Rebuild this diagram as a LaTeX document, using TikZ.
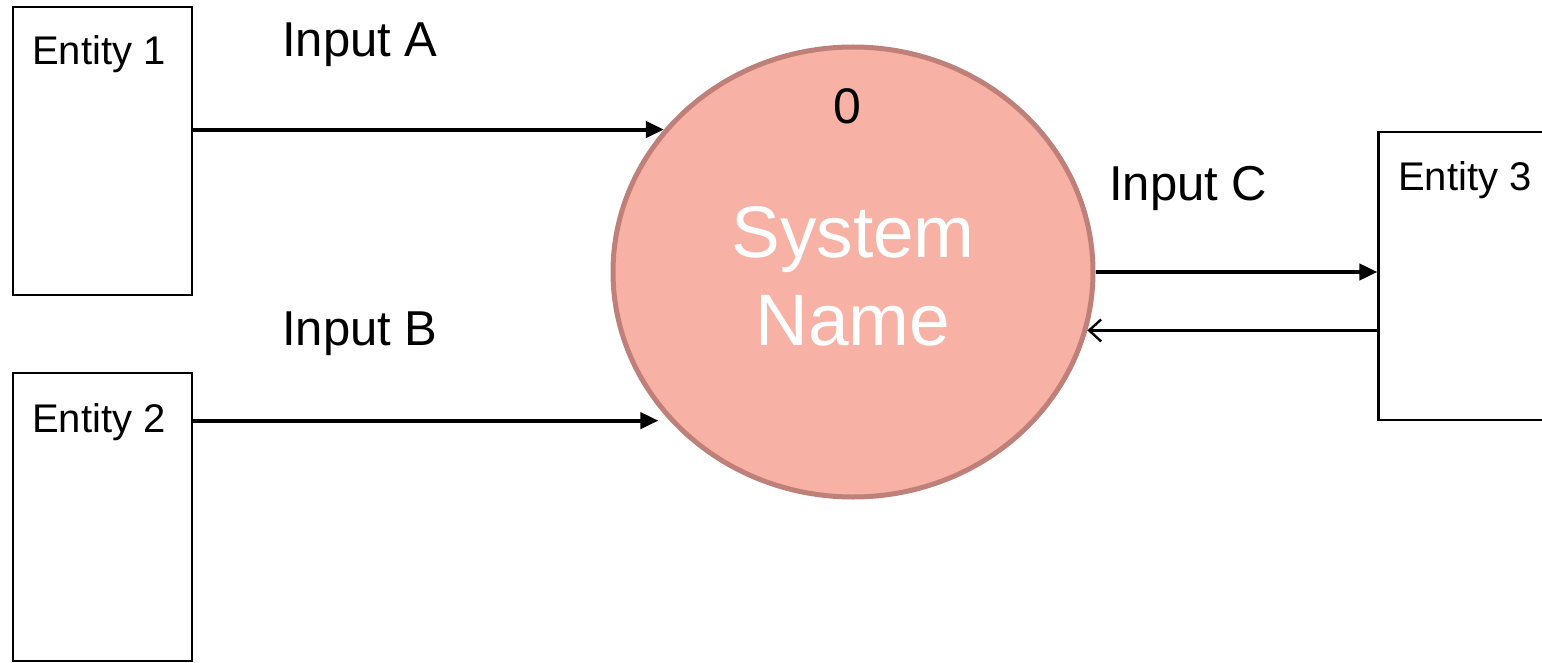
\documentclass[tikz,border=0pt]{standalone}
\usepackage{fontspec}
\setmainfont{Liberation Sans}
\usetikzlibrary{shapes.geometric,arrows.meta}
\definecolor{sysfill}{RGB}{247,178,165}
\definecolor{sysline}{RGB}{190,128,120}
\tikzset{
  entitybox/.style={draw=black, line width=2.2pt, minimum width=179pt, minimum height=288pt, inner sep=0pt},
  process/.style={ellipse, draw=sysline, fill=sysfill, line width=5pt, minimum width=480pt, minimum height=450pt, inner sep=0pt},
  elabel/.style={anchor=base west, inner sep=0pt, font=\fontsize{40}{48}\selectfont},
  flabel/.style={anchor=base west, inner sep=0pt, font=\fontsize{49}{58}\selectfont},
  stext/.style={anchor=base, inner sep=0pt, text=white, font=\fontsize{73}{86}\selectfont},
  flow/.style={line width=4pt, -{Triangle[length=18pt, width=16pt]}},
  backflow/.style={line width=2.4pt, -{Straight Barb[length=12pt, width=22pt, line width=2.4pt]}}
}
\begin{document}
\begin{tikzpicture}[x=1pt, y=-1pt]
  \useasboundingbox (0,0) rectangle (1542,663);
  \clip (0,0) rectangle (1542,663);

  % external entities
  \node[entitybox] (e1) at (102.5,151) {};
  \node[entitybox] (e2) at (102.5,517) {};
  \node[entitybox] (e3) at (1468,276) {};
  \node[elabel] (t1) at (32,65) {Entity 1};
  \node[elabel] (t2) at (32,432) {Entity 2};
  \node[elabel] (t3) at (1398,191) {Entity 3};

  % central process
  \node[process] (sys) at (853,272) {};
  \node[anchor=base, inner sep=0pt, font=\fontsize{50}{60}\selectfont] (num) at (847,124) {0};
  \node[stext] (s1) at (853,258) {System};
  \node[stext] (s2) at (853,345) {Name};

  % data flows
  \draw[flow] (e1.east |- sys.143) -- (sys.143);
  \draw[flow, shorten >=11pt] (e2.east |- sys.219.5) -- (sys.219.5);
  \draw[flow] (sys.east) -- (sys.east -| e3.west);
  \draw[backflow] (sys.-14.2 -| e3.west) -- (sys.-14.2);

  % flow labels
  \node[flabel] (la) at (282,57) {Input A};
  \node[flabel] (lb) at (282,345) {Input B};
  \node[flabel] (lc) at (1109,201) {Input C};
\end{tikzpicture}
\end{document}
